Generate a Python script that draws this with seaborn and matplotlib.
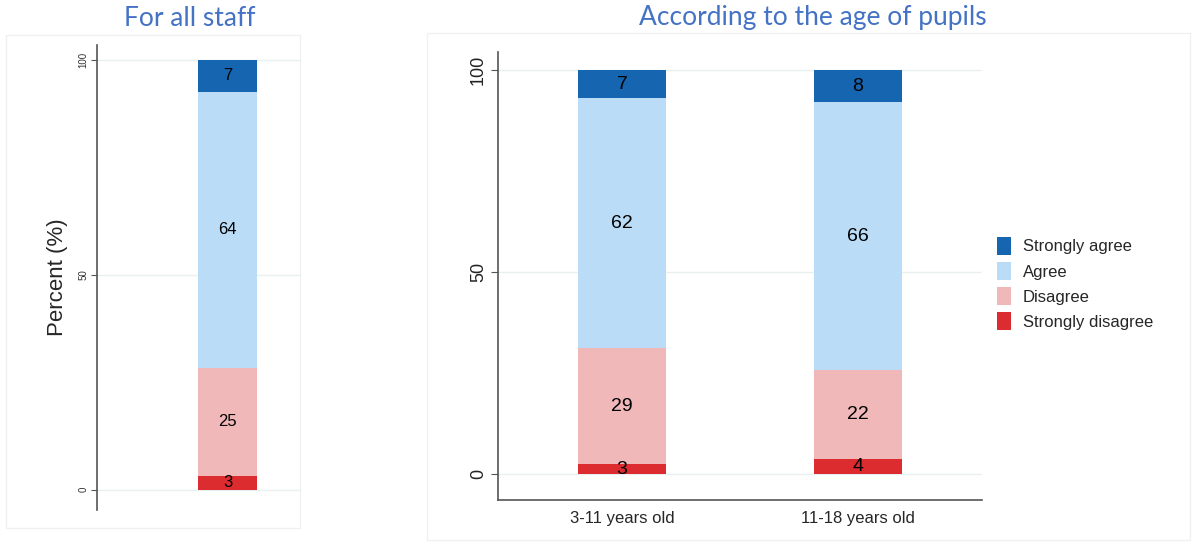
import numpy as np
import pandas as pd
import matplotlib
matplotlib.use("Agg")
import matplotlib.pyplot as plt
from matplotlib.patches import Rectangle
import seaborn as sns

# segment values (bottom -> top) and their printed labels
levels = ["Strongly disagree", "Disagree", "Agree", "Strongly agree"]
colors = ["#DD2C30", "#F0B8B8", "#BADCF7", "#1565B0"]

all_group = ["All staff"]
all_vals = {"Strongly disagree": [3.3], "Disagree": [25.1], "Agree": [64.2], "Strongly agree": [7.4]}
all_labels = {"Strongly disagree": ["3"], "Disagree": ["25"], "Agree": ["64"], "Strongly agree": ["7"]}

age_groups = ["3-11 years old", "11-18 years old"]
age_vals = {"Strongly disagree": [2.5, 3.7], "Disagree": [28.7, 22.0],
            "Agree": [61.9, 66.4], "Strongly agree": [6.9, 7.9]}
age_labels = {"Strongly disagree": ["3", "4"], "Disagree": ["29", "22"],
              "Agree": ["62", "66"], "Strongly agree": ["7", "8"]}

title_color = "#4472C4"
grid_color = "#E8F1F2"

sns.set_theme(style="white")
plt.rcParams["font.family"] = ["Liberation Sans", "DejaVu Sans"]

fig = plt.figure(figsize=(11.92, 5.45), dpi=100)
W, H = 1192, 545


def fig_rect(x0, y0, x1, y1):
    return [x0 / W, 1 - y1 / H, (x1 - x0) / W, (y1 - y0) / H]


def stacked(ax, groups, vals, labels, width, fs):
    bottom = np.zeros(len(groups))
    for lev, col in zip(levels, colors):
        df = pd.DataFrame({"group": groups, "value": vals[lev]})
        sns.barplot(data=df, x="group", y="value", color=col, width=width,
                    bottom=bottom, ax=ax, label=lev, linewidth=0, saturation=1)
        for i, (v, t) in enumerate(zip(vals[lev], labels[lev])):
            ax.text(i, bottom[i] + v / 2, t, ha="center", va="center",
                    fontsize=fs, color="black")
        bottom = bottom + np.array(vals[lev])


# panel frames
for x0, y0, x1, y1 in [(6, 35, 300, 528), (427, 33, 1190, 540)]:
    fig.patches.append(Rectangle((x0 / W, 1 - y1 / H), (x1 - x0) / W, (y1 - y0) / H,
                                 transform=fig.transFigure, fill=False,
                                 edgecolor="#F0F0F0", linewidth=1))

# left panel
ax1 = fig.add_axes(fig_rect(97, 45, 300, 510))
stacked(ax1, all_group, all_vals, all_labels, 0.5, 12)
ax1.set_xlim(-1.106, 0.614)
ax1.set_ylim(-4.7, 103.5)
ax1.set_yticks([0, 50, 100])
ax1.set_yticklabels(["0", "50", "100"], rotation=90, va="center", fontsize=7, color="#333333")
ax1.tick_params(axis="y", length=4, width=0.8, color="#555555", left=True, pad=2)
ax1.set_xticks([])
ax1.set_xlabel("")
ax1.set_ylabel("Percent (%)", fontsize=16, labelpad=8)
for s in ["top", "right", "bottom"]:
    ax1.spines[s].set_visible(False)
ax1.spines["left"].set_color("#555555")
ax1.spines["left"].set_linewidth(1.2)
ax1.yaxis.grid(True, color=grid_color, linewidth=1)
ax1.set_axisbelow(True)
if ax1.get_legend():
    ax1.get_legend().remove()

# right panel
ax2 = fig.add_axes(fig_rect(498, 52, 982, 500))
stacked(ax2, age_groups, age_vals, age_labels, 0.373, 14)
ax2.set_xlim(-0.525, 1.525)
ax2.set_ylim(-6.4, 104.5)
ax2.set_yticks([0, 50, 100])
ax2.set_yticklabels(["0", "50", "100"], rotation=90, va="center", fontsize=13, color="#222222")
ax2.tick_params(axis="y", length=5, width=0.8, color="#555555", left=True, pad=3)
ax2.tick_params(axis="x", length=0, labelsize=12, pad=8)
ax2.set_xlabel("")
ax2.set_ylabel("")
for s in ["top", "right"]:
    ax2.spines[s].set_visible(False)
for s in ["left", "bottom"]:
    ax2.spines[s].set_color("#555555")
    ax2.spines[s].set_linewidth(1.2)
ax2.yaxis.grid(True, color=grid_color, linewidth=1)
ax2.set_axisbelow(True)

handles, labs = ax2.get_legend_handles_labels()
if ax2.get_legend():
    ax2.get_legend().remove()
fig.legend(handles[::-1], labs[::-1], loc="upper left",
           bbox_to_anchor=(982 / W, 1 - 222 / H), frameon=False, fontsize=12,
           handlelength=0.85, handleheight=1.25, handletextpad=0.7, labelspacing=0.45)

# titles
fig.text(190 / W, 1 - 18 / H, "For all staff", ha="center", va="center",
         fontsize=19, color=title_color, family=["Lato", "DejaVu Sans"])
fig.text(813 / W, 1 - 18 / H, "According to the age of pupils", ha="center", va="center",
         fontsize=19, color=title_color, family=["Lato", "DejaVu Sans"])

fig.savefig("out.png", dpi=100)
